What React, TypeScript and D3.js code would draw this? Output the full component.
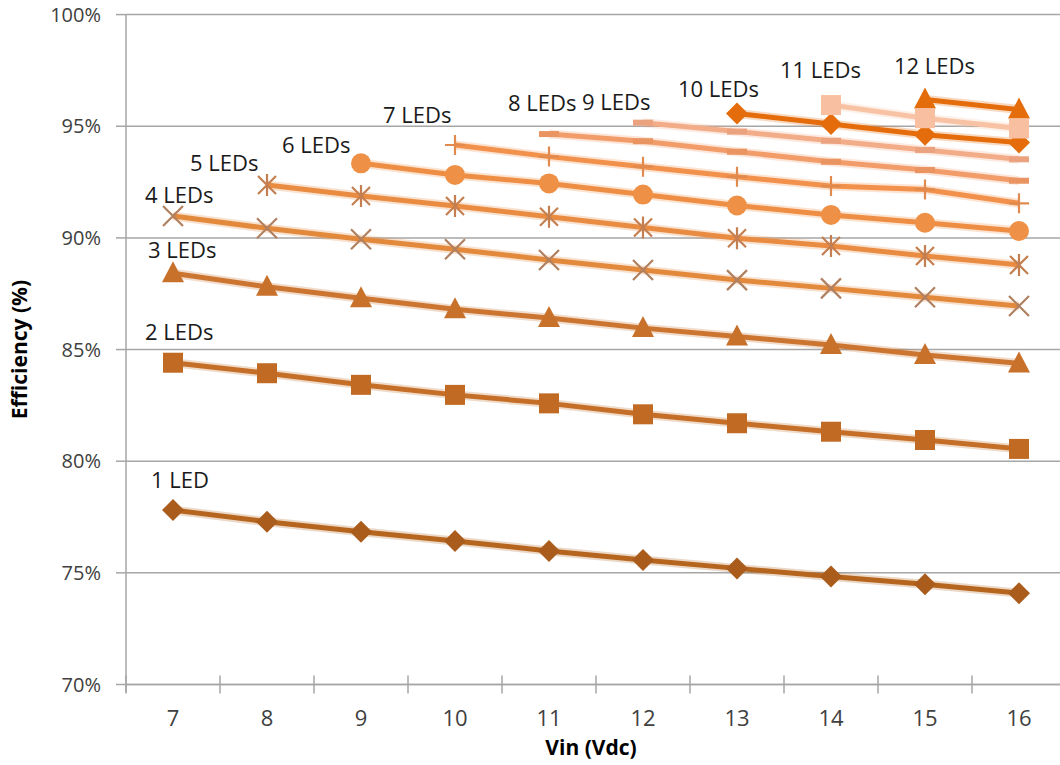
import React from "react";
import * as d3 from "d3";

const vin = ["7", "8", "9", "10", "11", "12", "13", "14", "15", "16"];
const yTicks = [70, 75, 80, 85, 90, 95, 100];

const led1 = [77.81, 77.29, 76.84, 76.43, 75.98, 75.58, 75.2, 74.84, 74.49, 74.09];
const led2 = [84.41, 83.94, 83.42, 82.97, 82.59, 82.1, 81.7, 81.32, 80.95, 80.55];
const led3 = [88.42, 87.81, 87.3, 86.8, 86.41, 85.96, 85.58, 85.2, 84.76, 84.38];
const led4 = [90.98, 90.43, 89.94, 89.49, 89.01, 88.56, 88.11, 87.74, 87.34, 86.95];
const led5 = [null, 92.37, 91.88, 91.43, 90.95, 90.47, 89.98, 89.64, 89.19, 88.79];
const led6 = [null, null, 93.34, 92.82, 92.44, 91.94, 91.45, 91.03, 90.68, 90.31];
const led7 = [null, null, null, 94.16, 93.64, 93.19, 92.74, 92.32, 92.17, 91.55];
const led8 = [null, null, null, null, 94.65, 94.33, 93.86, 93.41, 93.04, 92.56];
const led9 = [null, null, null, null, null, 95.16, 94.76, 94.35, 93.94, 93.52];
const led10 = [null, null, null, null, null, null, 95.57, 95.1, 94.62, 94.27];
const led11 = [null, null, null, null, null, null, null, 95.95, 95.36, 94.9];
const led12 = [null, null, null, null, null, null, null, null, 96.2, 95.75];

const seriesNames = ["1 LED", "2 LEDs", "3 LEDs", "4 LEDs", "5 LEDs", "6 LEDs", "7 LEDs", "8 LEDs", "9 LEDs", "10 LEDs", "11 LEDs", "12 LEDs"];
const seriesValues = [led1, led2, led3, led4, led5, led6, led7, led8, led9, led10, led11, led12];

// styles (kept apart from data)
const styles = [
  { color: "#B5651D", mk: "diamond", mkColor: "#A95C1B", dx: -22, dy: -22 },
  { color: "#C46E28", mk: "square", mkColor: "#C06A24", dx: -28, dy: -23 },
  { color: "#CC7530", mk: "triangle", mkColor: "#C8712B", dx: -25, dy: -15 },
  { color: "#E2893C", mk: "x", mkColor: "#B08060", dx: -28, dy: -13 },
  { color: "#E98C42", mk: "star", mkColor: "#C47E50", dx: -77, dy: -14 },
  { color: "#EE8E45", mk: "circle", mkColor: "#EE9046", dx: -79, dy: -10 },
  { color: "#F2914B", mk: "plus", mkColor: "#E08A50", dx: -72, dy: -22 },
  { color: "#F29C6A", mk: "dash", mkColor: "#EA9462", dx: -41, dy: -23 },
  { color: "#F2AC88", mk: "dash", mkColor: "#EBA27E", dx: -61, dy: -13 },
  { color: "#E46C0A", mk: "diamond", mkColor: "#E46C0A", dx: -59, dy: -17 },
  { color: "#F8C3A5", mk: "square", mkColor: "#F8C0A0", dx: -51, dy: -27 },
  { color: "#E46C0A", mk: "triangle", mkColor: "#E46C0A", dx: -31, dy: -25 },
];
const drawOrder = [0, 1, 2, 3, 4, 5, 6, 7, 8, 9, 11, 10];

const W = 1060, H = 765;
const plotLeft = 126, plotRight = 1066, plotTop = 14.6, plotBottom = 684.5;
const FONT = "'Open Sans', 'Noto Sans', sans-serif";

function Marker({ type, x, y, color }) {
  const s = 10;
  switch (type) {
    case "diamond":
      return <path d={`M${x},${y - 11}L${x + 11},${y}L${x},${y + 11}L${x - 11},${y}Z`} fill={color} />;
    case "square":
      return <rect x={x - s} y={y - s} width={2 * s} height={2 * s} fill={color} />;
    case "triangle":
      return <path d={`M${x},${y - 12}L${x + 11},${y + 9}L${x - 11},${y + 9}Z`} fill={color} />;
    case "circle":
      return <circle cx={x} cy={y} r={10} fill={color} />;
    case "x":
      return (
        <path d={`M${x - 10},${y - 10}L${x + 10},${y + 10}M${x - 10},${y + 10}L${x + 10},${y - 10}`} stroke={color} strokeWidth={2.2} fill="none" />
      );
    case "star":
      return (
        <path
          d={`M${x - 9},${y - 9}L${x + 9},${y + 9}M${x - 9},${y + 9}L${x + 9},${y - 9}M${x},${y - 11}L${x},${y + 11}`}
          stroke={color}
          strokeWidth={2.2}
          fill="none"
        />
      );
    case "plus":
      return <path d={`M${x - 10},${y}L${x + 10},${y}M${x},${y - 10}L${x},${y + 10}`} stroke={color} strokeWidth={2.2} fill="none" />;
    case "dash":
      return <rect x={x - 10} y={y - 3} width={20} height={6} fill={color} />;
    default:
      return null;
  }
}

export default function App() {
  const x = d3.scaleBand().domain(vin).range([plotLeft, plotRight]).paddingInner(0).paddingOuter(0);
  const y = d3.scaleLinear().domain([70, 100]).range([plotBottom, plotTop]);
  const cx = (c) => x(c) + x.bandwidth() / 2;

  const line = d3
    .line()
    .defined((d) => d[1] != null)
    .x((d) => cx(d[0]))
    .y((d) => y(d[1]));

  const xTickPos = vin.map((c) => x(c) + x.bandwidth()).concat([plotLeft]);

  return (
    <svg width={W} height={H} style={{ position: "absolute", left: 0, top: 0, background: "#fff" }}>
      <rect x={0} y={0} width={W} height={H} fill="#fff" />
      {/* gridlines */}
      {yTicks.map((t) => (
        <line key={t} x1={plotLeft} x2={W} y1={y(t)} y2={y(t)} stroke="#A6A6A6" strokeWidth={1.5} />
      ))}
      {/* y axis */}
      <line x1={plotLeft} x2={plotLeft} y1={plotTop} y2={plotBottom + 8} stroke="#A6A6A6" strokeWidth={1.5} />
      {yTicks.map((t) => (
        <line key={"yt" + t} x1={plotLeft - 10} x2={plotLeft} y1={y(t)} y2={y(t)} stroke="#A6A6A6" strokeWidth={1.5} />
      ))}
      {yTicks.map((t) => (
        <text key={"yl" + t} x={101} y={y(t) + 7} textAnchor="end" fontFamily={FONT} fontSize={20} fill="#404040">
          {t}%
        </text>
      ))}
      {/* x axis */}
      <line x1={plotLeft} x2={W} y1={plotBottom} y2={plotBottom} stroke="#A6A6A6" strokeWidth={1.5} />
      {xTickPos.map((p, i) => (
        <line key={"xt" + i} x1={p} x2={p} y1={plotBottom - 9} y2={plotBottom + 9} stroke="#A6A6A6" strokeWidth={1.5} />
      ))}
      {vin.map((c) => (
        <text key={"xl" + c} x={cx(c)} y={726} textAnchor="middle" fontFamily={FONT} fontSize={22} fill="#404040">
          {c}
        </text>
      ))}
      {/* axis titles */}
      <text x={591} y={755} textAnchor="middle" fontFamily={FONT} fontSize={21} fontWeight="bold" fill="#000">
        Vin (Vdc)
      </text>
      <text
        transform={`translate(27,${(plotTop + plotBottom) / 2}) rotate(-90)`}
        textAnchor="middle"
        fontFamily={FONT}
        fontSize={21}
        fontWeight="bold"
        fill="#000"
      >
        Efficiency (%)
      </text>
      {/* series */}
      {drawOrder.map((si) => {
        const vals = seriesValues[si];
        const st = styles[si];
        const pts = vin.map((c, i) => [c, vals[i]]);
        return (
          <g key={"s" + si}>
            <path d={line(pts)} fill="none" stroke={st.color} strokeOpacity={0.25} strokeWidth={9} strokeLinejoin="round" />
            <path d={line(pts)} fill="none" stroke={st.color} strokeWidth={5} strokeLinejoin="round" />
            {pts
              .filter((d) => d[1] != null)
              .map((d) => (
                <Marker key={d[0]} type={st.mk} x={cx(d[0])} y={y(d[1])} color={st.mkColor} />
              ))}
          </g>
        );
      })}
      {/* series labels */}
      {seriesNames.map((name, si) => {
        const vals = seriesValues[si];
        const first = vals.findIndex((v) => v != null);
        const st = styles[si];
        return (
          <text
            key={"lab" + si}
            x={cx(vin[first]) + st.dx}
            y={y(vals[first]) + st.dy}
            fontFamily={FONT}
            fontSize={22}
            fill="#1a1a1a"
          >
            {name}
          </text>
        );
      })}
    </svg>
  );
}
